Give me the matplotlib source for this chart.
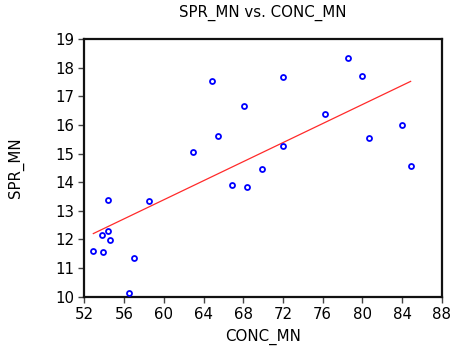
import numpy as np
import matplotlib
matplotlib.use("Agg")
import matplotlib.pyplot as plt

conc_mn = [64.88, 68.10, 65.42, 62.91, 78.58, 71.97, 79.99, 76.20, 83.98, 80.69,
           72.03, 84.86, 69.92, 66.90, 68.40, 54.41, 58.54, 54.35, 53.77, 54.58,
           52.90, 53.84, 57.03, 56.52]
spr_mn = [17.54, 16.67, 15.62, 15.06, 18.35, 17.67, 17.72, 16.38, 16.00, 15.53,
          15.27, 14.57, 14.45, 13.91, 13.82, 13.38, 13.34, 12.28, 12.14, 11.98,
          11.58, 11.55, 11.34, 10.13]
x_ticks = [52, 56, 60, 64, 68, 72, 76, 80, 84, 88]
y_ticks = [10, 11, 12, 13, 14, 15, 16, 17, 18, 19]

plt.rcParams['font.family'] = ['DejaVu Sans']

fig = plt.figure(figsize=(4.56, 3.54), dpi=100)
ax = fig.add_axes([84.4/456, 1-296.5/354, (441.8-84.4)/456, (296.5-39.1)/354])

x = np.array(conc_mn)
y = np.array(spr_mn)
ax.plot(x, y, linestyle='none', marker='o', markersize=3.6, markerfacecolor='none',
        markeredgecolor='#0000ff', markeredgewidth=1.3, zorder=3)
b, a = np.polyfit(x, y, 1)
xl = np.array([x.min(), x.max()])
ax.plot(xl, a + b*xl, color='#ff2a2a', linewidth=0.9, zorder=2)

ax.set_xlim(x_ticks[0], x_ticks[-1])
ax.set_ylim(y_ticks[0], y_ticks[-1])
ax.set_xticks(x_ticks)
ax.set_yticks(y_ticks)
ax.tick_params(direction='out', length=4.5, width=1.0, color='#444444',
               labelsize=10.8, pad=3.0)
for s in ax.spines.values():
    s.set_linewidth(1.6)
    s.set_color('#111111')

ax.set_title('SPR_MN vs. CONC_MN', fontsize=10.8, pad=16)
ax.set_xlabel('CONC_MN', fontsize=10.8, labelpad=5)
ax.set_ylabel('SPR_MN', fontsize=10.8, labelpad=22)

fig.savefig('out.png', dpi=100)
